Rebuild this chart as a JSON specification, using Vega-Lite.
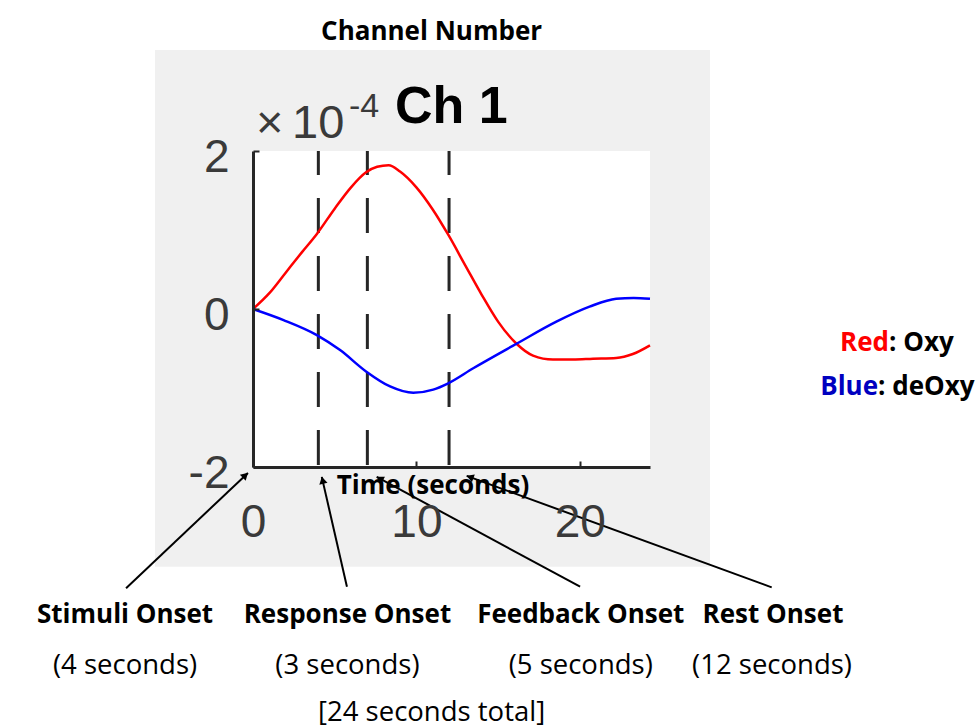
{
  "$schema": "https://vega.github.io/schema/vega-lite/v6.json",
  "autosize": "none",
  "width": 397,
  "height": 316,
  "padding": {"left": 253, "top": 151, "right": 326, "bottom": 260},
  "background": "white",
  "config": {"view": {"stroke": null}},
  "datasets": {
    "curves": [
      {"t": 0, "v": 0, "series": "Oxy"},
      {"t": 1.0, "v": 0.2, "series": "Oxy"},
      {"t": 2.0, "v": 0.46, "series": "Oxy"},
      {"t": 3.0, "v": 0.72, "series": "Oxy"},
      {"t": 3.91, "v": 0.95, "series": "Oxy"},
      {"t": 5.0, "v": 1.27, "series": "Oxy"},
      {"t": 6.0, "v": 1.54, "series": "Oxy"},
      {"t": 6.92, "v": 1.73, "series": "Oxy"},
      {"t": 7.6, "v": 1.8, "series": "Oxy"},
      {"t": 8.3, "v": 1.82, "series": "Oxy"},
      {"t": 9.0, "v": 1.74, "series": "Oxy"},
      {"t": 10.0, "v": 1.54, "series": "Oxy"},
      {"t": 11.0, "v": 1.26, "series": "Oxy"},
      {"t": 11.95, "v": 0.94, "series": "Oxy"},
      {"t": 13.0, "v": 0.55, "series": "Oxy"},
      {"t": 14.0, "v": 0.18, "series": "Oxy"},
      {"t": 15.0, "v": -0.16, "series": "Oxy"},
      {"t": 16.13, "v": -0.44, "series": "Oxy"},
      {"t": 17.14, "v": -0.59, "series": "Oxy"},
      {"t": 18.36, "v": -0.64, "series": "Oxy"},
      {"t": 19.59, "v": -0.64, "series": "Oxy"},
      {"t": 20.81, "v": -0.63, "series": "Oxy"},
      {"t": 22.23, "v": -0.62, "series": "Oxy"},
      {"t": 23.25, "v": -0.57, "series": "Oxy"},
      {"t": 24.3, "v": -0.46, "series": "Oxy"},
      {"t": 0, "v": 0, "series": "deOxy"},
      {"t": 1.87, "v": -0.14, "series": "deOxy"},
      {"t": 3.91, "v": -0.33, "series": "deOxy"},
      {"t": 5.33, "v": -0.52, "series": "deOxy"},
      {"t": 6.92, "v": -0.79, "series": "deOxy"},
      {"t": 8.39, "v": -0.98, "series": "deOxy"},
      {"t": 9.81, "v": -1.06, "series": "deOxy"},
      {"t": 11.03, "v": -1.02, "series": "deOxy"},
      {"t": 11.95, "v": -0.94, "series": "deOxy"},
      {"t": 13.48, "v": -0.75, "series": "deOxy"},
      {"t": 16.13, "v": -0.44, "series": "deOxy"},
      {"t": 18.57, "v": -0.16, "series": "deOxy"},
      {"t": 20.6, "v": 0.03, "series": "deOxy"},
      {"t": 22.23, "v": 0.13, "series": "deOxy"},
      {"t": 23.3, "v": 0.14, "series": "deOxy"},
      {"t": 24.3, "v": 0.13, "series": "deOxy"}
    ],
    "onsets": [{"t": 4}, {"t": 7}, {"t": 12}],
    "panel": [{"x0": -6.0, "x1": 27.97, "y0": 3.278, "y1": -3.262}],
    "plotbg": [{"x0": 0, "x1": 24.3, "y0": 2, "y1": -2}],
    "arrows": [
      {"name": "Stimuli", "x0": -7.77, "y0": -3.535, "x1": -0.31, "y1": -2.075, "hx": -0.465, "hy": -2.105, "angle": 46.4},
      {"name": "Response", "x0": 5.75, "y0": -3.515, "x1": 4.21, "y1": -2.125, "hx": 4.26, "hy": -2.168, "angle": 347},
      {"name": "Feedback", "x0": 20.02, "y0": -3.515, "x1": 7.57, "y1": -2.125, "hx": 7.76, "hy": -2.147, "angle": 298.7},
      {"name": "Rest", "x0": 31.75, "y0": -3.523, "x1": 13.08, "y1": -2.113, "hx": 13.28, "hy": -2.128, "angle": 290}
    ],
    "boldLabels": [
      {"text": "Channel Number", "x": 10.93, "y": 3.51},
      {"text": "Stimuli Onset", "x": -7.83, "y": -3.873},
      {"text": "Response Onset", "x": 5.78, "y": -3.873},
      {"text": "Feedback Onset", "x": 20.06, "y": -3.873},
      {"text": "Rest Onset", "x": 31.83, "y": -3.873}
    ],
    "plainLabels": [
      {"text": "(4 seconds)", "x": -7.83, "y": -4.519},
      {"text": "(3 seconds)", "x": 5.78, "y": -4.519},
      {"text": "(5 seconds)", "x": 20.06, "y": -4.519},
      {"text": "(12 seconds)", "x": 31.77, "y": -4.519},
      {"text": "[24 seconds total]", "x": 10.93, "y": -5.114}
    ],
    "xlabel": [{"text": "Time (seconds)", "x": 11.02, "y": -2.24}],
    "exp10": [
      {"text": "×", "x": 0.18, "y": 2.165},
      {"text": "10", "x": 2.39, "y": 2.165}
    ],
    "expPow": [{"text": "-4", "x": 5.876, "y": 2.43}],
    "chTitle": [{"text": "Ch 1", "x": 8.69, "y": 2.354}],
    "legendColored": [
      {"text": "Red", "series": "Oxy", "x": 38.93, "y": -0.43},
      {"text": "Blue", "series": "deOxy", "x": 38.26, "y": -0.987}
    ],
    "legendRest": [
      {"text": ": Oxy", "x": 38.93, "y": -0.43},
      {"text": ": deOxy", "x": 38.26, "y": -0.987}
    ]
  },
  "layer": [
    {
      "data": {"name": "panel"},
      "mark": {"type": "rect", "color": "#f0f0f0"},
      "encoding": {
        "x": {"field": "x0", "type": "quantitative", "scale": {"domain": [0, 24.3], "nice": false, "zero": false},
          "axis": {"zindex": 1, "values": [0, 10, 20], "format": "d", "title": null, "grid": false, "labelFont": "Liberation Sans", "labelFontSize": 46, "labelColor": "#3a3a3a", "labelBaseline": "middle", "labelPadding": 61, "tickSize": -6, "labelFlush": false, "labelOverlap": false, "domainColor": "#262626", "domainWidth": 3, "tickColor": "#262626", "tickWidth": 2}},
        "x2": {"field": "x1"},
        "y": {"field": "y0", "type": "quantitative", "scale": {"domain": [-2, 2], "nice": false, "zero": false},
          "axis": {"zindex": 1, "values": [-2, 0, 2], "format": "d", "title": null, "grid": false, "labelExpr": "replace(datum.label, '−', '-')", "labelFont": "Liberation Sans", "labelFontSize": 46, "labelColor": "#3a3a3a", "labelBaseline": "middle", "labelOffset": 6, "labelPadding": 30, "labelOverlap": false, "tickSize": -6, "domainColor": "#262626", "domainWidth": 3, "tickColor": "#262626", "tickWidth": 2}},
        "y2": {"field": "y1"}
      }
    },
    {
      "data": {"name": "plotbg"},
      "mark": {"type": "rect", "color": "white"},
      "encoding": {
        "x": {"field": "x0", "type": "quantitative"},
        "x2": {"field": "x1"},
        "y": {"field": "y0", "type": "quantitative"},
        "y2": {"field": "y1"}
      }
    },
    {
      "data": {"name": "onsets"},
      "mark": {"type": "rule", "color": "#262626", "strokeWidth": 3, "strokeDash": [35, 23], "strokeDashOffset": 11},
      "encoding": {
        "x": {"field": "t", "type": "quantitative"},
        "y": {"datum": 2},
        "y2": {"datum": -2}
      }
    },
    {
      "data": {"name": "curves"},
      "mark": {"type": "line", "strokeWidth": 2.5, "interpolate": "monotone"},
      "encoding": {
        "x": {"field": "t", "type": "quantitative"},
        "y": {"field": "v", "type": "quantitative"},
        "color": {"field": "series", "type": "nominal", "scale": {"domain": ["Oxy", "deOxy"], "range": ["#ff0000", "#0000ff"]}, "legend": null}
      }
    },
    {
      "data": {"name": "xlabel"},
      "mark": {"type": "text", "font": "Open Sans", "fontWeight": "bold", "fontSize": 26, "color": "black", "align": "center", "baseline": "middle"},
      "encoding": {
        "x": {"field": "x", "type": "quantitative"},
        "y": {"field": "y", "type": "quantitative"},
        "text": {"field": "text"}
      }
    },
    {
      "data": {"name": "arrows"},
      "mark": {"type": "rule", "color": "black", "strokeWidth": 2},
      "encoding": {
        "x": {"field": "x0", "type": "quantitative"},
        "y": {"field": "y0", "type": "quantitative"},
        "x2": {"field": "x1"},
        "y2": {"field": "y1"}
      }
    },
    {
      "data": {"name": "arrows"},
      "mark": {"type": "point", "shape": "triangle-up", "filled": true, "color": "black", "opacity": 1, "size": 70},
      "encoding": {
        "x": {"field": "hx", "type": "quantitative"},
        "y": {"field": "hy", "type": "quantitative"},
        "angle": {"field": "angle", "type": "quantitative", "scale": null}
      }
    },
    {
      "data": {"name": "boldLabels"},
      "mark": {"type": "text", "font": "Open Sans", "fontWeight": "bold", "fontSize": 26, "color": "black", "align": "center", "baseline": "middle"},
      "encoding": {
        "x": {"field": "x", "type": "quantitative"},
        "y": {"field": "y", "type": "quantitative"},
        "text": {"field": "text"}
      }
    },
    {
      "data": {"name": "plainLabels"},
      "mark": {"type": "text", "font": "Open Sans", "fontSize": 27.5, "color": "black", "align": "center", "baseline": "middle"},
      "encoding": {
        "x": {"field": "x", "type": "quantitative"},
        "y": {"field": "y", "type": "quantitative"},
        "text": {"field": "text"}
      }
    },
    {
      "data": {"name": "exp10"},
      "mark": {"type": "text", "font": "Liberation Sans", "fontSize": 47, "color": "#3a3a3a", "align": "left", "baseline": "alphabetic"},
      "encoding": {
        "x": {"field": "x", "type": "quantitative"},
        "y": {"field": "y", "type": "quantitative"},
        "text": {"field": "text"}
      }
    },
    {
      "data": {"name": "expPow"},
      "mark": {"type": "text", "font": "Liberation Sans", "fontSize": 34, "color": "#3a3a3a", "align": "left", "baseline": "alphabetic"},
      "encoding": {
        "x": {"field": "x", "type": "quantitative"},
        "y": {"field": "y", "type": "quantitative"},
        "text": {"field": "text"}
      }
    },
    {
      "data": {"name": "chTitle"},
      "mark": {"type": "text", "font": "Liberation Sans", "fontWeight": "bold", "fontSize": 52, "color": "black", "align": "left", "baseline": "alphabetic"},
      "encoding": {
        "x": {"field": "x", "type": "quantitative"},
        "y": {"field": "y", "type": "quantitative"},
        "text": {"field": "text"}
      }
    },
    {
      "data": {"name": "legendColored"},
      "mark": {"type": "text", "font": "Open Sans", "fontWeight": "bold", "fontSize": 26, "align": "right", "baseline": "middle"},
      "encoding": {
        "x": {"field": "x", "type": "quantitative"},
        "y": {"field": "y", "type": "quantitative"},
        "text": {"field": "text"},
        "fill": {"field": "series", "type": "nominal", "scale": {"domain": ["Oxy", "deOxy"], "range": ["#ff0000", "#0000c0"]}, "legend": null}
      }
    },
    {
      "data": {"name": "legendRest"},
      "mark": {"type": "text", "font": "Open Sans", "fontWeight": "bold", "fontSize": 26, "color": "black", "align": "left", "baseline": "middle"},
      "encoding": {
        "x": {"field": "x", "type": "quantitative"},
        "y": {"field": "y", "type": "quantitative"},
        "text": {"field": "text"}
      }
    }
  ]
}
